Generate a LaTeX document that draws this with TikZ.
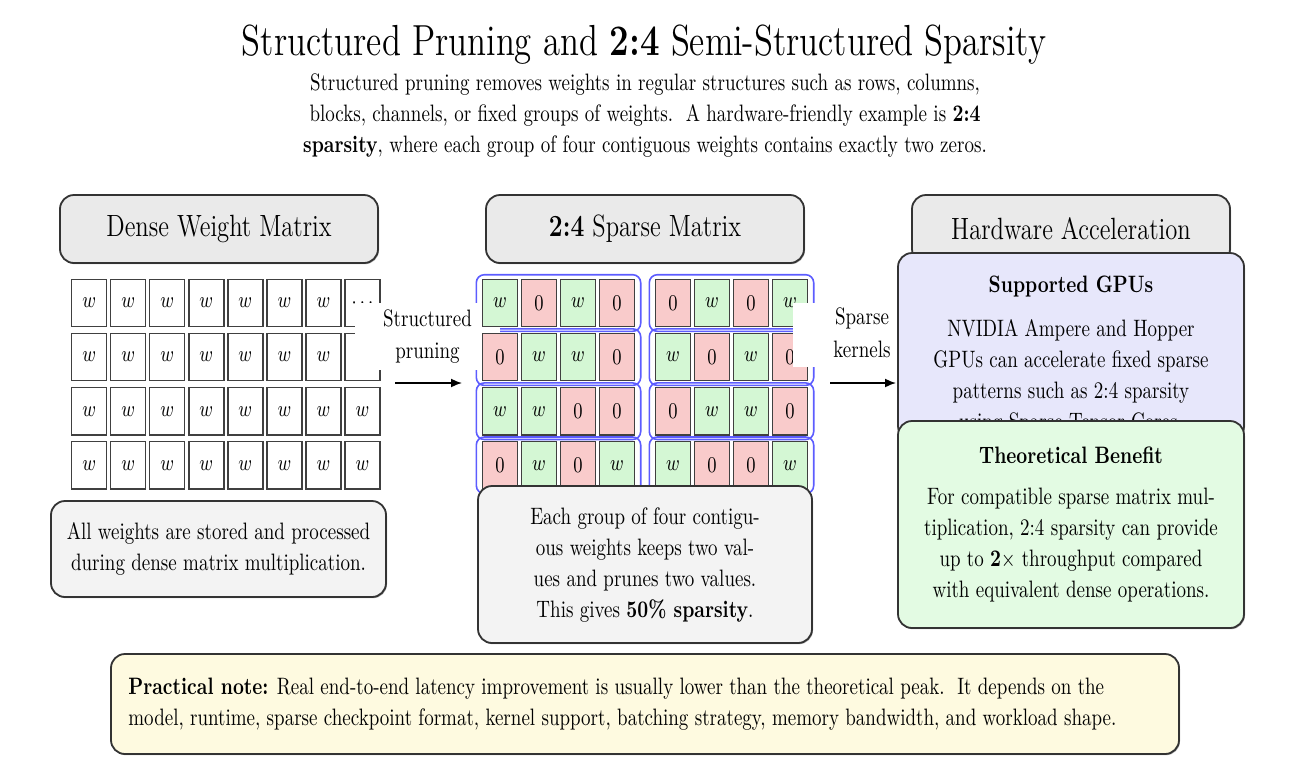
\documentclass[tikz,border=0pt]{standalone}
\usepackage{graphicx}
\usetikzlibrary{arrows.meta,fit,shadows,backgrounds}
\definecolor{hdrgray}{HTML}{EAEAEA}
\definecolor{descgray}{HTML}{F3F3F3}
\definecolor{cellgreen}{HTML}{D4F7D4}
\definecolor{cellred}{HTML}{F9CBCB}
\definecolor{grpblue}{HTML}{5C5CFF}
\definecolor{gpublue}{HTML}{E7E7FB}
\definecolor{benefitgreen}{HTML}{E3FBE3}
\definecolor{noteyellow}{HTML}{FEFAE0}
\newcommand\vs[1]{\scalebox{1}[1.25]{#1}}
\newcommand\vsc[1]{\scalebox{1}[1.25]{\begin{tabular}{@{}c@{}}#1\end{tabular}}}
\newcommand\vsl[1]{\scalebox{1}[1.25]{\begin{tabular}{@{}l@{}}#1\end{tabular}}}
\newcommand\bodyf{\fontsize{9.5}{12.4}\selectfont}
\newcommand\hdrf{\fontsize{12.3}{15}\selectfont}
\newcommand\titf{\fontsize{12}{14}\selectfont}
\begin{document}
\begin{tikzpicture}[x=0.5pt,y=-0.5pt,
  softshade/.style={drop shadow={shadow xshift=0.5pt,shadow yshift=-0.6pt,opacity=0.35,fill=black}},
  hdr/.style={draw=black!80,line width=0.9pt,rounded corners=7pt,fill=hdrgray,minimum width=159pt,minimum height=34pt,inner sep=0pt,font=\hdrf,softshade},
  panel/.style={draw=black!80,line width=0.9pt,rounded corners=7pt,inner sep=0pt,softshade},
  cell/.style={draw=black!75,line width=0.7pt,minimum width=17.5pt,minimum height=23.6pt,inner sep=0pt,font=\bodyf},
  grp/.style={draw=grpblue,line width=0.8pt,rounded corners=4pt,inner xsep=2.75pt,inner ysep=2pt},
  lbl/.style={fill=white,inner sep=0pt,font=\bodyf},
  txt/.style={inner sep=0pt,font=\bodyf},
  arr/.style={-{Latex[length=5.5pt,width=4.5pt]},line width=0.8pt}]
\useasboundingbox (0,0) rectangle (1306,782);
% title
\node[inner sep=0pt] (title) at (644,45) {\titf\scalebox{1.45}[1.8125]{Structured Pruning and \textbf{2:4} Semi-Structured Sparsity}};
\node[txt] (sub) at (645,115) {\vsc{Structured pruning removes weights in regular structures such as rows, columns,\\
blocks, channels, or fixed groups of weights.\ \ A hardware-friendly example is \textbf{2:4}\\
\textbf{sparsity}, where each group of four contiguous weights contains exactly two zeros.}};
% headers
\node[hdr] (hd) at (219,229) {\vs{Dense Weight Matrix}};
\node[hdr] (hs) at (645,229) {\vs{\textbf{2:4} Sparse Matrix}};
\node[hdr] (hh) at (1071,229) {\vs{Hardware Acceleration}};
% dense matrix
\foreach \r in {0,...,3}{
  \foreach \c in {0,...,7}{
    \ifnum\r=0 \ifnum\c=7 \def\t{$\cdots$}\else\def\t{$w$}\fi\else\def\t{$w$}\fi
    \node[cell,fill=white] (d-\r-\c) at ({89.2+39.04*\c},{303+54.1*\r}) {\vs{\t}};
  }
}
\node[panel,fill=descgray,minimum width=167.5pt,minimum height=48pt] (dd) at (218.5,549) {};
\node[txt] (ddt) at (218.5,549) {\vsc{All weights are stored and processed\\during dense matrix multiplication.}};
% label 1 and arrow 1
\node[lbl,minimum width=72.5pt,minimum height=33.5pt] (l1) at (427.5,336.5) {\vsc{Structured\\[0.6pt]pruning}};
\coordinate (a1s) at (395,383);
\coordinate (a1e) at (462,383);
\draw[arr] (a1s) -- (a1e);
% sparse matrix
\foreach \r/\pat in {0/{w,0,w,0,0,w,0,w},1/{0,w,w,0,w,0,w,0},2/{w,w,0,0,0,w,w,0},3/{0,w,0,w,w,0,0,w}}{
  \foreach \v [count=\c from 0] in \pat {
    \if\v w\def\fc{cellgreen}\else\def\fc{cellred}\fi
    \node[cell,fill=\fc] (s-\r-\c) at ({500+39*\c+17*(\c>3)},{303+54.1*\r}) {\vs{$\v$}};
  }
}
\begin{scope}[on background layer]
\foreach \r in {0,...,3}{
  \node[grp,fit=(s-\r-0)(s-\r-3)] (gl-\r) {};
  \node[grp,fit=(s-\r-4)(s-\r-7)] (gr-\r) {};
}
\end{scope}
\node[panel,fill=descgray,minimum width=167pt,minimum height=78.5pt] (sd) at (645,564.5) {};
\node[txt] (sdt) at (645,564.5) {\vsc{Each group of four contigu-\\ous weights keeps two val-\\ues and prunes two values.\\This gives \textbf{50\% sparsity}.}};
% label 2 and arrow 2
\node[lbl,minimum width=69pt,minimum height=32pt] (l2) at (862,335) {\vsc{Sparse\\[0.6pt]kernels}};
\coordinate (a2s) at (830,383);
\coordinate (a2e) at (896,383);
\draw[arr] (a2s) -- (a2e);
% hardware panels
\node[panel,fill=gpublue,minimum width=173pt,minimum height=93.5pt] (gpu) at (1071,346.5) {};
\node[txt] (gput) at (1071,287) {\vs{\textbf{Supported GPUs}}};
\node[txt] (gpub) at (1071,377) {\vsc{NVIDIA Ampere and Hopper\\GPUs can accelerate fixed sparse\\patterns such as 2:4 sparsity\\using Sparse Tensor Cores.}};
\node[panel,fill=benefitgreen,minimum width=173pt,minimum height=103.5pt] (ben) at (1071,524.5) {};
\node[txt] (bent) at (1071,455) {\vs{\textbf{Theoretical Benefit}}};
\node[txt] (benb) at (1071,545) {\vsc{For compatible sparse matrix mul-\\tiplication, 2:4 sparsity can provide\\up to \textbf{2}$\times$ throughput compared\\with equivalent dense operations.}};
% note
\node[panel,fill=noteyellow,minimum width=534pt,minimum height=50pt] (note) at (645,704) {};
\node[txt,anchor=west] (notet) at (128,703.5) {\vsl{\textbf{Practical note:} Real end-to-end latency improvement is usually lower than the theoretical peak.\ \ It depends on the\\
model, runtime, sparse checkpoint format, kernel support, batching strategy, memory bandwidth, and workload shape.}};
\end{tikzpicture}
\end{document}
